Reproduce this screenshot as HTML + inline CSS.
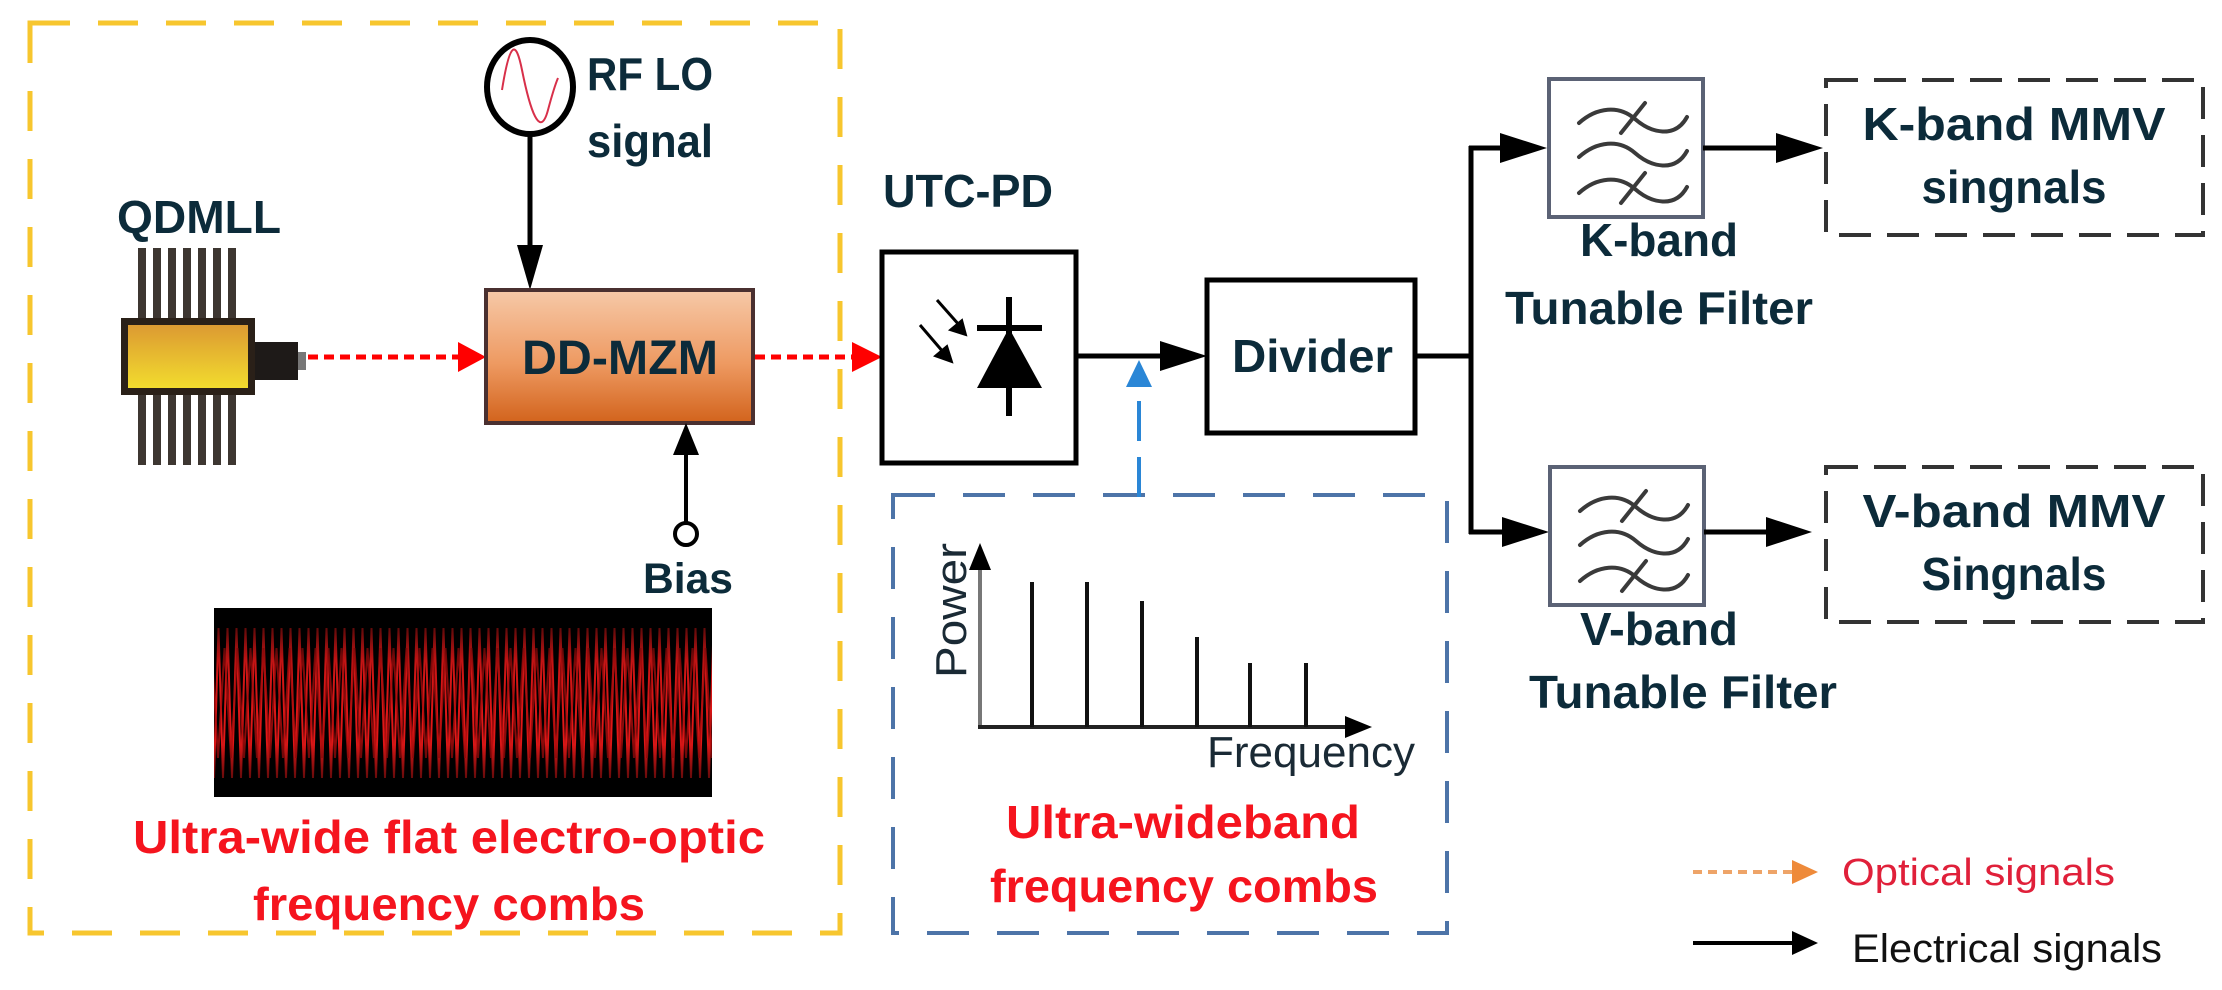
<!DOCTYPE html>
<html><head><meta charset="utf-8"><style>
html,body{margin:0;padding:0;background:#fff;}
svg{display:block;}
text{font-family:"Liberation Sans",Arial,sans-serif;}
.lbl{font-weight:bold;fill:#0c2b3a;}
.red{font-weight:bold;fill:#f5141e;}
</style></head><body>
<svg width="2222" height="990" viewBox="0 0 2222 990" xmlns="http://www.w3.org/2000/svg">
<defs>
 <marker id="ab" markerWidth="10" markerHeight="10" refX="9" refY="5" orient="auto" markerUnits="userSpaceOnUse" viewBox="0 0 10 10"><path d="M0,0 L10,5 L0,10 z" fill="#000"/></marker>
 <linearGradient id="mzm" x1="0" y1="0" x2="0" y2="1"><stop offset="0" stop-color="#f6c9a8"/><stop offset="0.55" stop-color="#ee9a62"/><stop offset="1" stop-color="#d2631c"/></linearGradient>
 <linearGradient id="gold" x1="0" y1="0" x2="0" y2="1"><stop offset="0" stop-color="#dc9a32"/><stop offset="1" stop-color="#f2dc2e"/></linearGradient>
 <pattern id="zz" width="9" height="200" patternUnits="userSpaceOnUse" x="214" y="608">
  <path d="M0,170 L4.5,20 L9,170" stroke="#ff1a1a" stroke-width="2" fill="none"/>
 </pattern>
 <pattern id="zz2" width="13" height="200" patternUnits="userSpaceOnUse" x="218" y="608">
  <path d="M0,150 L6.5,40 L13,150" stroke="#c80e0e" stroke-width="2" fill="none"/>
 </pattern>
 <linearGradient id="fade" x1="0" y1="0" x2="0" y2="1"><stop offset="0" stop-color="#000" stop-opacity="0.85"/><stop offset="0.3" stop-color="#000" stop-opacity="0.2"/><stop offset="0.7" stop-color="#000" stop-opacity="0.1"/><stop offset="1" stop-color="#000" stop-opacity="0.85"/></linearGradient>
 <g id="filt">
  <rect x="0" y="0" width="154" height="138" fill="#fff" stroke="#5b6275" stroke-width="4"/>
  <g stroke="#3a3a3a" stroke-width="4" fill="none" stroke-linecap="round">
   <path d="M30,44 C48,28 70,26 86,40 C102,54 126,60 138,38"/>
   <path d="M72,54 L96,24"/>
   <path d="M30,78 C48,62 70,60 86,74 C102,88 126,94 138,72"/>
   <path d="M30,114 C48,98 70,96 86,110 C102,124 126,130 138,108"/>
   <path d="M72,124 L96,94"/>
  </g>
 </g>
</defs>

<!-- yellow dashed box -->
<rect x="30" y="23" width="810" height="910" fill="none" stroke="#f7c62e" stroke-width="5" stroke-dasharray="40 28"/>

<!-- QDMLL -->
<text class="lbl" x="117" y="233" font-size="46" textLength="164" lengthAdjust="spacingAndGlyphs">QDMLL</text>
<g fill="#3d3631">
 <rect x="138" y="248" width="8" height="70"/><rect x="153" y="248" width="8" height="70"/><rect x="168" y="248" width="8" height="70"/><rect x="183" y="248" width="8" height="70"/><rect x="198" y="248" width="8" height="70"/><rect x="213" y="248" width="8" height="70"/><rect x="228" y="248" width="8" height="70"/>
 <rect x="138" y="395" width="8" height="70"/><rect x="153" y="395" width="8" height="70"/><rect x="168" y="395" width="8" height="70"/><rect x="183" y="395" width="8" height="70"/><rect x="198" y="395" width="8" height="70"/><rect x="213" y="395" width="8" height="70"/><rect x="228" y="395" width="8" height="70"/>
</g>
<rect x="121" y="318" width="134" height="77" fill="#2a2018"/>
<rect x="128" y="325" width="120" height="63" fill="url(#gold)"/>
<rect x="255" y="342" width="43" height="38" fill="#1e1a18"/>
<rect x="298" y="352" width="8" height="18" fill="#777"/>

<!-- optical line QDMLL -> MZM -->
<line x1="308" y1="357" x2="462" y2="357" stroke="#ff0000" stroke-width="5" stroke-dasharray="10 6"/>
<path d="M458,342 L486,357 L458,372 z" fill="#ff0000"/>

<!-- RF LO -->
<ellipse cx="530" cy="87" rx="43" ry="47" fill="#fff" stroke="#000" stroke-width="6"/>
<path d="M502,90 C510,40 516,40 522,70 C530,110 540,140 548,110 C552,95 555,85 558,78" stroke="#d8304a" stroke-width="2" fill="none"/>
<line x1="530" y1="134" x2="530" y2="250" stroke="#000" stroke-width="5"/>
<path d="M517,245 L543,245 L530,290 z" fill="#000"/>
<text class="lbl" x="587" y="90" font-size="46" textLength="126" lengthAdjust="spacingAndGlyphs">RF LO</text>
<text class="lbl" x="587" y="157" font-size="46" textLength="126" lengthAdjust="spacingAndGlyphs">signal</text>

<!-- DD-MZM -->
<rect x="486" y="290" width="267" height="133" fill="url(#mzm)" stroke="#4a3030" stroke-width="4"/>
<text class="lbl" x="620" y="374" font-size="48" text-anchor="middle" textLength="196" lengthAdjust="spacingAndGlyphs">DD-MZM</text>

<!-- Bias -->
<line x1="686" y1="522" x2="686" y2="450" stroke="#000" stroke-width="4"/>
<path d="M673,455 L699,455 L686,423 z" fill="#000"/>
<circle cx="686" cy="534" r="11" fill="#fff" stroke="#000" stroke-width="4"/>
<text class="lbl" x="643" y="593" font-size="43" textLength="90" lengthAdjust="spacingAndGlyphs">Bias</text>

<!-- comb image -->
<rect x="214" y="608" width="498" height="189" fill="#000"/>
<rect x="214" y="618" width="498" height="170" fill="url(#zz)"/>
<rect x="214" y="618" width="498" height="170" fill="url(#zz2)" opacity="0.8"/>
<rect x="214" y="608" width="498" height="189" fill="url(#fade)"/>

<text class="red" x="449" y="853" font-size="46" text-anchor="middle" textLength="632" lengthAdjust="spacingAndGlyphs">Ultra-wide flat electro-optic</text>
<text class="red" x="449" y="920" font-size="46" text-anchor="middle" textLength="392" lengthAdjust="spacingAndGlyphs">frequency combs</text>

<!-- optical MZM -> PD -->
<line x1="755" y1="357" x2="856" y2="357" stroke="#ff0000" stroke-width="5" stroke-dasharray="10 6"/>
<path d="M852,342 L882,357 L852,372 z" fill="#ff0000"/>

<!-- UTC-PD -->
<text class="lbl" x="883" y="207" font-size="46" textLength="170" lengthAdjust="spacingAndGlyphs">UTC-PD</text>
<rect x="882" y="252" width="194" height="211" fill="#fff" stroke="#000" stroke-width="5"/>
<line x1="1009" y1="297" x2="1009" y2="416" stroke="#000" stroke-width="6"/>
<line x1="977" y1="328" x2="1042" y2="328" stroke="#000" stroke-width="6"/>
<path d="M1009,328 L1042,388 L977,388 z" fill="#000"/>
<line x1="937" y1="300" x2="960" y2="326" stroke="#000" stroke-width="3"/>
<path d="M966,335 L950,330 L962,320 z" fill="#000" stroke="#000" stroke-width="2"/>
<line x1="920" y1="325" x2="944" y2="353" stroke="#000" stroke-width="3"/>
<path d="M952,362 L935,356 L947,346 z" fill="#000" stroke="#000" stroke-width="2"/>

<!-- PD -> Divider -->
<line x1="1076" y1="356" x2="1180" y2="356" stroke="#000" stroke-width="5"/>
<path d="M1160,341 L1207,356 L1160,371 z" fill="#000"/>

<!-- blue dashed box and arrow -->
<rect x="893" y="495" width="554" height="438" fill="none" stroke="#4d74a8" stroke-width="4" stroke-dasharray="42 28"/>
<line x1="1139" y1="497" x2="1139" y2="380" stroke="#2a86d6" stroke-width="4" stroke-dasharray="40 16"/>
<path d="M1126,387 L1152,387 L1139,360 z" fill="#2a86d6"/>

<!-- spectrum -->
<line x1="980" y1="727" x2="980" y2="565" stroke="#777" stroke-width="4"/>
<path d="M969,570 L991,570 L980,543 z" fill="#000"/>
<line x1="978" y1="727" x2="1350" y2="727" stroke="#222" stroke-width="4"/>
<path d="M1345,716 L1372,727 L1345,738 z" fill="#000"/>
<g stroke="#111" stroke-width="4">
 <line x1="1032" y1="727" x2="1032" y2="582"/>
 <line x1="1087" y1="727" x2="1087" y2="582"/>
 <line x1="1142" y1="727" x2="1142" y2="601"/>
 <line x1="1197" y1="727" x2="1197" y2="637"/>
 <line x1="1250" y1="727" x2="1250" y2="663"/>
 <line x1="1306" y1="727" x2="1306" y2="663"/>
</g>
<text x="966" y="678" font-size="44" fill="#1a2a35" transform="rotate(-90 966 678)" textLength="135" lengthAdjust="spacingAndGlyphs">Power</text>
<text x="1207" y="767" font-size="44" fill="#1a2a35" textLength="208" lengthAdjust="spacingAndGlyphs">Frequency</text>
<text class="red" x="1183" y="838" font-size="46" text-anchor="middle" textLength="354" lengthAdjust="spacingAndGlyphs">Ultra-wideband</text>
<text class="red" x="1184" y="902" font-size="46" text-anchor="middle" textLength="388" lengthAdjust="spacingAndGlyphs">frequency combs</text>

<!-- Divider -->
<rect x="1207" y="280" width="208" height="153" fill="#fff" stroke="#000" stroke-width="5"/>
<text class="lbl" x="1232" y="372" font-size="46" textLength="161" lengthAdjust="spacingAndGlyphs">Divider</text>

<!-- branches -->
<line x1="1415" y1="356" x2="1473" y2="356" stroke="#000" stroke-width="5"/>
<line x1="1471" y1="146" x2="1471" y2="534" stroke="#000" stroke-width="5"/>
<line x1="1469" y1="148" x2="1520" y2="148" stroke="#000" stroke-width="5"/>
<path d="M1500,133 L1547,148 L1500,163 z" fill="#000"/>
<line x1="1469" y1="532" x2="1522" y2="532" stroke="#000" stroke-width="5"/>
<path d="M1502,517 L1549,532 L1502,547 z" fill="#000"/>

<!-- filters -->
<use href="#filt" x="1549" y="79"/>
<use href="#filt" x="1550" y="467"/>
<text class="lbl" x="1580" y="256" font-size="46" textLength="158" lengthAdjust="spacingAndGlyphs">K-band</text>
<text class="lbl" x="1505" y="324" font-size="46" textLength="308" lengthAdjust="spacingAndGlyphs">Tunable Filter</text>
<text class="lbl" x="1580" y="645" font-size="46" textLength="158" lengthAdjust="spacingAndGlyphs">V-band</text>
<text class="lbl" x="1529" y="708" font-size="46" textLength="308" lengthAdjust="spacingAndGlyphs">Tunable Filter</text>

<!-- filter -> outputs -->
<line x1="1703" y1="148" x2="1790" y2="148" stroke="#000" stroke-width="5"/>
<path d="M1776,133 L1823,148 L1776,163 z" fill="#000"/>
<line x1="1704" y1="532" x2="1790" y2="532" stroke="#000" stroke-width="5"/>
<path d="M1766,517 L1812,532 L1766,547 z" fill="#000"/>

<rect x="1826" y="80" width="377" height="155" fill="none" stroke="#333" stroke-width="4" stroke-dasharray="32 16"/>
<text class="lbl" x="2014" y="140" font-size="46" text-anchor="middle" textLength="303" lengthAdjust="spacingAndGlyphs">K-band MMV</text>
<text class="lbl" x="2014" y="203" font-size="46" text-anchor="middle" textLength="185" lengthAdjust="spacingAndGlyphs">singnals</text>

<rect x="1826" y="467" width="377" height="155" fill="none" stroke="#333" stroke-width="4" stroke-dasharray="32 16"/>
<text class="lbl" x="2014" y="527" font-size="46" text-anchor="middle" textLength="303" lengthAdjust="spacingAndGlyphs">V-band MMV</text>
<text class="lbl" x="2014" y="590" font-size="46" text-anchor="middle" textLength="185" lengthAdjust="spacingAndGlyphs">Singnals</text>

<!-- legend -->
<line x1="1693" y1="872" x2="1796" y2="872" stroke="#eea468" stroke-width="4" stroke-dasharray="9 6"/>
<path d="M1792,860 L1818,872 L1792,884 z" fill="#ee8a3a"/>
<text x="1842" y="885" font-size="38" fill="#e0203a" textLength="273" lengthAdjust="spacingAndGlyphs">Optical signals</text>
<line x1="1693" y1="943" x2="1796" y2="943" stroke="#000" stroke-width="4"/>
<path d="M1792,931 L1818,943 L1792,955 z" fill="#000"/>
<text x="1852" y="962" font-size="40" fill="#111" textLength="310" lengthAdjust="spacingAndGlyphs">Electrical signals</text>
</svg>
</body></html>
